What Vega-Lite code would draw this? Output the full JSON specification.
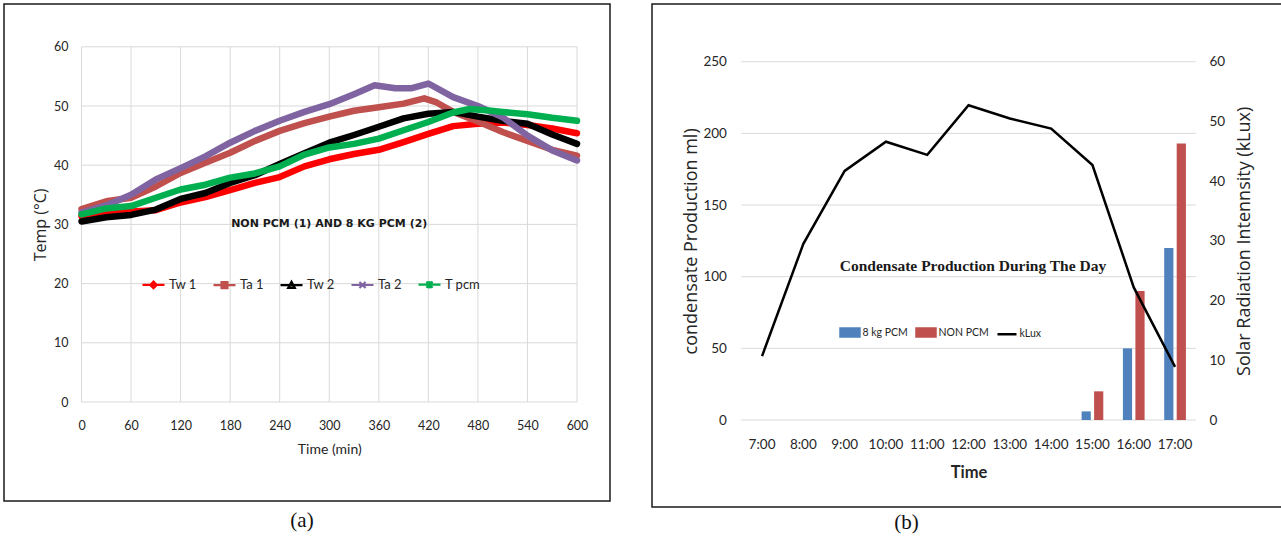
{
  "$schema": "https://vega.github.io/schema/vega-lite/v6.json",
  "background": "white",
  "padding": {"left": 3, "top": 3, "right": 0, "bottom": 0},
  "autosize": {"type": "pad"},
  "spacing": 40,
  "config": {
    "view": {"stroke": null},
    "font": "Lato, sans-serif",
    "axis": {
      "labelColor": "#262626",
      "titleColor": "#262626",
      "titleFontWeight": "normal",
      "ticks": false,
      "grid": false,
      "domainColor": "#D9D9D9",
      "labelFont": "Lato, sans-serif",
      "titleFont": "Lato, sans-serif"
    },
    "title": {"font": "Liberation Serif", "fontSize": 21, "fontWeight": "normal", "color": "#111111"}
  },
  "resolve": {
    "scale": {"x": "independent", "y": "independent", "color": "independent"},
    "legend": {"color": "independent"}
  },
  "hconcat": [
    {
      "width": 606,
      "height": 497,
      "view": {"stroke": "#1a1a1a", "strokeWidth": 1.5, "fill": "white"},
      "title": {"text": "(a)", "orient": "bottom", "anchor": "middle", "dx": -5, "offset": 9},
      "layer": [
        {
          "data": {"values": [{"time": 0}, {"time": 60}, {"time": 120}, {"time": 180}, {"time": 240}, {"time": 300}, {"time": 360}, {"time": 420}, {"time": 480}, {"time": 540}, {"time": 600}]},
          "mark": {"type": "rule", "color": "#D9D9D9", "strokeWidth": 1},
          "encoding": {
            "x": {"field": "time", "type": "quantitative"},
            "y": {"datum": 0, "type": "quantitative"},
            "y2": {"datum": 60}
          }
        },
        {
          "data": {"values": [{"temp": 0}, {"temp": 10}, {"temp": 20}, {"temp": 30}, {"temp": 40}, {"temp": 50}, {"temp": 60}]},
          "mark": {"type": "rule", "color": "#D9D9D9", "strokeWidth": 1},
          "encoding": {
            "y": {"field": "temp", "type": "quantitative"},
            "x": {"datum": 0, "type": "quantitative"},
            "x2": {"datum": 600}
          }
        },
        {
          "data": {
            "values": [
              {"series": "Tw 1", "time": 0, "temp": 31.4}, {"series": "Tw 1", "time": 30, "temp": 31.8}, {"series": "Tw 1", "time": 60, "temp": 32.2},
              {"series": "Tw 1", "time": 90, "temp": 32.4}, {"series": "Tw 1", "time": 120, "temp": 33.7}, {"series": "Tw 1", "time": 150, "temp": 34.6},
              {"series": "Tw 1", "time": 180, "temp": 35.8}, {"series": "Tw 1", "time": 210, "temp": 37.0}, {"series": "Tw 1", "time": 240, "temp": 38.0},
              {"series": "Tw 1", "time": 270, "temp": 39.8}, {"series": "Tw 1", "time": 300, "temp": 41.0}, {"series": "Tw 1", "time": 330, "temp": 41.9},
              {"series": "Tw 1", "time": 360, "temp": 42.6}, {"series": "Tw 1", "time": 390, "temp": 43.9}, {"series": "Tw 1", "time": 420, "temp": 45.3},
              {"series": "Tw 1", "time": 450, "temp": 46.6}, {"series": "Tw 1", "time": 480, "temp": 47.0}, {"series": "Tw 1", "time": 510, "temp": 47.2},
              {"series": "Tw 1", "time": 540, "temp": 46.8}, {"series": "Tw 1", "time": 570, "temp": 46.2}, {"series": "Tw 1", "time": 600, "temp": 45.4},

              {"series": "Ta 1", "time": 0, "temp": 32.6}, {"series": "Ta 1", "time": 30, "temp": 33.9}, {"series": "Ta 1", "time": 60, "temp": 34.5},
              {"series": "Ta 1", "time": 90, "temp": 36.4}, {"series": "Ta 1", "time": 120, "temp": 38.7}, {"series": "Ta 1", "time": 150, "temp": 40.4},
              {"series": "Ta 1", "time": 180, "temp": 42.1}, {"series": "Ta 1", "time": 210, "temp": 44.1}, {"series": "Ta 1", "time": 240, "temp": 45.8},
              {"series": "Ta 1", "time": 270, "temp": 47.1}, {"series": "Ta 1", "time": 300, "temp": 48.2}, {"series": "Ta 1", "time": 330, "temp": 49.2},
              {"series": "Ta 1", "time": 360, "temp": 49.8}, {"series": "Ta 1", "time": 390, "temp": 50.4}, {"series": "Ta 1", "time": 415, "temp": 51.3},
              {"series": "Ta 1", "time": 430, "temp": 50.6}, {"series": "Ta 1", "time": 450, "temp": 49.0}, {"series": "Ta 1", "time": 480, "temp": 47.4},
              {"series": "Ta 1", "time": 510, "temp": 45.6}, {"series": "Ta 1", "time": 540, "temp": 44.1}, {"series": "Ta 1", "time": 570, "temp": 42.6},
              {"series": "Ta 1", "time": 600, "temp": 41.6},

              {"series": "Tw 2", "time": 0, "temp": 30.5}, {"series": "Tw 2", "time": 30, "temp": 31.2}, {"series": "Tw 2", "time": 60, "temp": 31.6},
              {"series": "Tw 2", "time": 90, "temp": 32.5}, {"series": "Tw 2", "time": 120, "temp": 34.3}, {"series": "Tw 2", "time": 150, "temp": 35.3},
              {"series": "Tw 2", "time": 180, "temp": 37.0}, {"series": "Tw 2", "time": 210, "temp": 38.3}, {"series": "Tw 2", "time": 240, "temp": 40.2},
              {"series": "Tw 2", "time": 270, "temp": 42.0}, {"series": "Tw 2", "time": 300, "temp": 43.8}, {"series": "Tw 2", "time": 330, "temp": 45.1},
              {"series": "Tw 2", "time": 360, "temp": 46.5}, {"series": "Tw 2", "time": 390, "temp": 47.9}, {"series": "Tw 2", "time": 420, "temp": 48.7},
              {"series": "Tw 2", "time": 450, "temp": 49.0}, {"series": "Tw 2", "time": 480, "temp": 48.2}, {"series": "Tw 2", "time": 510, "temp": 47.5},
              {"series": "Tw 2", "time": 540, "temp": 47.0}, {"series": "Tw 2", "time": 570, "temp": 45.2}, {"series": "Tw 2", "time": 600, "temp": 43.6},

              {"series": "Ta 2", "time": 0, "temp": 32.0}, {"series": "Ta 2", "time": 30, "temp": 33.2}, {"series": "Ta 2", "time": 60, "temp": 35.0},
              {"series": "Ta 2", "time": 90, "temp": 37.6}, {"series": "Ta 2", "time": 120, "temp": 39.5}, {"series": "Ta 2", "time": 150, "temp": 41.5},
              {"series": "Ta 2", "time": 180, "temp": 43.8}, {"series": "Ta 2", "time": 210, "temp": 45.8}, {"series": "Ta 2", "time": 240, "temp": 47.5},
              {"series": "Ta 2", "time": 270, "temp": 49.0}, {"series": "Ta 2", "time": 300, "temp": 50.3}, {"series": "Ta 2", "time": 330, "temp": 52.0},
              {"series": "Ta 2", "time": 355, "temp": 53.5}, {"series": "Ta 2", "time": 380, "temp": 53.0}, {"series": "Ta 2", "time": 400, "temp": 53.0},
              {"series": "Ta 2", "time": 420, "temp": 53.8}, {"series": "Ta 2", "time": 450, "temp": 51.5}, {"series": "Ta 2", "time": 480, "temp": 50.0},
              {"series": "Ta 2", "time": 510, "temp": 48.1}, {"series": "Ta 2", "time": 540, "temp": 45.0}, {"series": "Ta 2", "time": 570, "temp": 42.5},
              {"series": "Ta 2", "time": 600, "temp": 40.8},

              {"series": "T pcm", "time": 0, "temp": 31.7}, {"series": "T pcm", "time": 30, "temp": 32.7}, {"series": "T pcm", "time": 60, "temp": 33.1},
              {"series": "T pcm", "time": 90, "temp": 34.5}, {"series": "T pcm", "time": 120, "temp": 35.9}, {"series": "T pcm", "time": 150, "temp": 36.7},
              {"series": "T pcm", "time": 180, "temp": 37.9}, {"series": "T pcm", "time": 210, "temp": 38.6}, {"series": "T pcm", "time": 240, "temp": 39.8},
              {"series": "T pcm", "time": 270, "temp": 41.8}, {"series": "T pcm", "time": 300, "temp": 43.0}, {"series": "T pcm", "time": 330, "temp": 43.6},
              {"series": "T pcm", "time": 360, "temp": 44.5}, {"series": "T pcm", "time": 390, "temp": 45.9}, {"series": "T pcm", "time": 420, "temp": 47.3},
              {"series": "T pcm", "time": 450, "temp": 48.9}, {"series": "T pcm", "time": 470, "temp": 49.5}, {"series": "T pcm", "time": 490, "temp": 49.3},
              {"series": "T pcm", "time": 510, "temp": 49.0}, {"series": "T pcm", "time": 540, "temp": 48.6}, {"series": "T pcm", "time": 570, "temp": 48.0},
              {"series": "T pcm", "time": 600, "temp": 47.5}
            ]
          },
          "mark": {"type": "line", "strokeWidth": 6.5, "strokeJoin": "round", "strokeCap": "round"},
          "encoding": {
            "x": {
              "field": "time", "type": "quantitative",
              "scale": {"domain": [0, 600], "range": [77.5, 573], "nice": false},
              "axis": {
                "orient": "bottom", "offset": -99, "values": [0, 60, 120, 180, 240, 300, 360, 420, 480, 540, 600],
                "domain": false, "labelFlush": false, "labelPadding": 17, "labelFontSize": 12.5,
                "title": "Time (min)", "titleFontSize": 14, "titlePadding": 11
              }
            },
            "y": {
              "field": "temp", "type": "quantitative",
              "scale": {"domain": [0, 60], "range": [398, 42.8], "nice": false},
              "axis": {
                "orient": "left", "offset": -77.5, "values": [0, 10, 20, 30, 40, 50, 60],
                "domain": false, "labelPadding": 13.5, "labelFontSize": 12.5,
                "title": "Temp (°C)", "titleFont": "Open Sans", "titleFontSize": 16, "titlePadding": 5
              }
            },
            "color": {
              "field": "series", "type": "nominal",
              "scale": {"domain": ["Tw 1", "Ta 1", "Tw 2", "Ta 2", "T pcm"], "range": ["#FF0000", "#C0504D", "#000000", "#8064A2", "#00B050"]},
              "legend": {
                "orient": "none", "legendX": 137, "legendY": 268, "direction": "horizontal",
                "title": null, "padding": 0, "labelFontSize": 13, "labelColor": "#262626",
                "labelFont": "Lato, sans-serif",
                "symbolSize": 484, "labelOffset": 3, "columnPadding": 12,
                "encode": {
                  "symbols": {
                    "update": {
                      "shape": {"signal": "datum.value === 'Tw 1' ? 'M-1,0L1,0M0,-0.3L0.3,0L0,0.3L-0.3,0Z' : datum.value === 'Ta 1' ? 'M-1,0L1,0M-0.27,-0.27L0.27,-0.27L0.27,0.27L-0.27,0.27Z' : datum.value === 'Tw 2' ? 'M-1,0L1,0M0,-0.3L0.3,0.25L-0.3,0.25Z' : datum.value === 'Ta 2' ? 'M-1,0L1,0M-0.28,-0.28L0.28,0.28M-0.28,0.28L0.28,-0.28' : 'M-1,0L1,0M-0.28,-0.28L0.28,0.28M-0.28,0.28L0.28,-0.28M0,-0.34L0,0.34'"},
                      "fill": {"signal": "datum.value === 'Tw 1' ? '#4F81BD' : datum.value === 'Ta 1' ? '#C0504D' : datum.value === 'Tw 2' ? '#9BBB59' : 'transparent'"},
                      "stroke": {"signal": "datum.value === 'Tw 1' ? '#FF0000' : datum.value === 'Ta 1' ? '#C0504D' : datum.value === 'Tw 2' ? '#000000' : datum.value === 'Ta 2' ? '#8064A2' : '#00B050'"},
                      "strokeWidth": {"value": 2.2},
                      "opacity": {"value": 1}
                    }
                  }
                }
              }
            }
          }
        },
        {
          "data": {"values": [{"label": "NON PCM (1) AND 8 KG PCM (2)", "time": 300, "temp": 30}]},
          "mark": {"type": "text", "font": "DejaVu Sans", "fontWeight": "bold", "fontSize": 11, "color": "#1a1a1a"},
          "encoding": {
            "x": {"field": "time", "type": "quantitative"},
            "y": {"field": "temp", "type": "quantitative"},
            "text": {"field": "label"}
          }
        }
      ]
    },
    {
      "width": 632,
      "height": 503,
      "view": {"stroke": "#1a1a1a", "strokeWidth": 1.5, "fill": null},
      "title": {"text": "(b)", "orient": "bottom", "anchor": "middle", "dx": -61.5, "offset": 5},
      "resolve": {
        "scale": {"x": "independent", "y": "independent"},
        "axis": {"x": "independent", "y": "independent"}
      },
      "layer": [
        {
          "data": {"values": [{"ml": 0}, {"ml": 50}, {"ml": 100}, {"ml": 150}, {"ml": 200}, {"ml": 250}]},
          "mark": {"type": "rule", "color": "#D9D9D9", "strokeWidth": 1},
          "encoding": {
            "y": {
              "field": "ml", "type": "quantitative",
              "scale": {"domain": [0, 250], "range": [416, 57.7], "nice": false},
              "axis": null
            },
            "x": {
              "datum": 0, "type": "quantitative",
              "scale": {"domain": [0, 1], "range": [89.4, 543.7], "nice": false, "zero": false},
              "axis": null
            },
            "x2": {"datum": 1}
          }
        },
        {
          "layer": [
            {
              "data": {
                "values": [
                  {"hour": "7:00", "series": "8 kg PCM", "ml": 0}, {"hour": "7:00", "series": "NON PCM", "ml": 0},
                  {"hour": "8:00", "series": "8 kg PCM", "ml": 0}, {"hour": "8:00", "series": "NON PCM", "ml": 0},
                  {"hour": "9:00", "series": "8 kg PCM", "ml": 0}, {"hour": "9:00", "series": "NON PCM", "ml": 0},
                  {"hour": "10:00", "series": "8 kg PCM", "ml": 0}, {"hour": "10:00", "series": "NON PCM", "ml": 0},
                  {"hour": "11:00", "series": "8 kg PCM", "ml": 0}, {"hour": "11:00", "series": "NON PCM", "ml": 0},
                  {"hour": "12:00", "series": "8 kg PCM", "ml": 0}, {"hour": "12:00", "series": "NON PCM", "ml": 0},
                  {"hour": "13:00", "series": "8 kg PCM", "ml": 0}, {"hour": "13:00", "series": "NON PCM", "ml": 0},
                  {"hour": "14:00", "series": "8 kg PCM", "ml": 0}, {"hour": "14:00", "series": "NON PCM", "ml": 0},
                  {"hour": "15:00", "series": "8 kg PCM", "ml": 6}, {"hour": "15:00", "series": "NON PCM", "ml": 20},
                  {"hour": "16:00", "series": "8 kg PCM", "ml": 50}, {"hour": "16:00", "series": "NON PCM", "ml": 90},
                  {"hour": "17:00", "series": "8 kg PCM", "ml": 120}, {"hour": "17:00", "series": "NON PCM", "ml": 193}
                ]
              },
              "mark": {"type": "bar"},
              "encoding": {
                "x": {
                  "field": "hour", "type": "ordinal", "sort": null,
                  "scale": {
                    "domain": ["7:00", "8:00", "9:00", "10:00", "11:00", "12:00", "13:00", "14:00", "15:00", "16:00", "17:00"],
                    "range": [89.4, 543.7], "paddingInner": 0, "paddingOuter": 0
                  },
                  "axis": {
                    "orient": "bottom", "offset": -87, "domain": false, "labelAngle": 0, "labelAlign": "center", "bandPosition": 0.5,
                    "labelPadding": 17, "labelFontSize": 13.5,
                    "title": "Time", "titleFontWeight": "bold", "titleFontSize": 16.5, "titlePadding": 14
                  }
                },
                "xOffset": {
                  "field": "series", "type": "nominal",
                  "scale": {"domain": ["8 kg PCM", "NON PCM"], "paddingInner": 0.264, "paddingOuter": 0.784}
                },
                "y": {
                  "field": "ml", "type": "quantitative",
                  "scale": {"domain": [0, 250], "range": [416, 57.7], "nice": false},
                  "axis": {
                    "orient": "left", "offset": -89.4, "values": [0, 50, 100, 150, 200, 250],
                    "domain": false, "labelPadding": 15, "labelFontSize": 13.5,
                    "title": "condensate Production ml)", "titleFont": "Open Sans", "titleFontSize": 18, "titlePadding": 2
                  }
                },
                "color": {
                  "field": "series", "type": "nominal",
                  "scale": {"domain": ["8 kg PCM", "NON PCM", "kLux"], "range": ["#4F81BD", "#C0504D", "#000000"]},
                  "legend": {
                    "orient": "none", "legendX": 187, "legendY": 317.5, "direction": "horizontal",
                    "title": null, "padding": 0, "labelFontSize": 10.5, "labelColor": "#262626",
                    "labelFont": "Lato, sans-serif",
                    "symbolSize": 361, "labelOffset": 1.5, "columnPadding": 3,
                    "encode": {
                      "symbols": {
                        "update": {
                          "shape": {"signal": "datum.value === 'kLux' ? 'M-1,0L1,0' : 'M-1,-0.42L1,-0.42L1,0.42L-1,0.42Z'"},
                          "fill": {"signal": "datum.value === '8 kg PCM' ? '#4F81BD' : datum.value === 'NON PCM' ? '#C0504D' : 'transparent'"},
                          "stroke": {"signal": "datum.value === 'kLux' ? '#000000' : 'transparent'"},
                          "strokeWidth": {"value": 2.5},
                          "opacity": {"value": 1}
                        }
                      }
                    }
                  }
                }
              }
            },
            {
              "data": {"values": [{"hour": "12:00", "ml": 107.6, "label": "Condensate Production During The Day"}]},
              "mark": {"type": "text", "font": "Liberation Serif", "fontWeight": "bold", "fontSize": 15.5, "color": "#1a1a1a", "dx": 4.4},
              "encoding": {
                "x": {"field": "hour", "type": "ordinal"},
                "y": {"field": "ml", "type": "quantitative"},
                "text": {"field": "label"}
              }
            }
          ]
        },
        {
          "data": {
            "values": [
              {"hour": "7:00", "series": "kLux", "klux": 10.7},
              {"hour": "8:00", "series": "kLux", "klux": 29.5},
              {"hour": "9:00", "series": "kLux", "klux": 41.7},
              {"hour": "10:00", "series": "kLux", "klux": 46.6},
              {"hour": "11:00", "series": "kLux", "klux": 44.4},
              {"hour": "12:00", "series": "kLux", "klux": 52.7},
              {"hour": "13:00", "series": "kLux", "klux": 50.5},
              {"hour": "14:00", "series": "kLux", "klux": 48.8},
              {"hour": "15:00", "series": "kLux", "klux": 42.7},
              {"hour": "16:00", "series": "kLux", "klux": 22.2},
              {"hour": "17:00", "series": "kLux", "klux": 8.9}
            ]
          },
          "mark": {"type": "line", "strokeWidth": 2.5},
          "encoding": {
            "x": {
              "field": "hour", "type": "ordinal", "sort": null,
              "scale": {
                "type": "band",
                "domain": ["7:00", "8:00", "9:00", "10:00", "11:00", "12:00", "13:00", "14:00", "15:00", "16:00", "17:00"],
                "range": [89.4, 543.7], "paddingInner": 0, "paddingOuter": 0
              },
              "axis": null
            },
            "y": {
              "field": "klux", "type": "quantitative",
              "scale": {"domain": [0, 60], "range": [416, 57.7], "nice": false},
              "axis": {
                "orient": "right", "offset": -88.3, "values": [0, 10, 20, 30, 40, 50, 60],
                "domain": false, "labelPadding": 13.3, "labelFontSize": 13.5,
                "title": "Solar Radiation Intennsity (kLux)", "titleFont": "Open Sans", "titleFontSize": 18,
                "titleAngle": 270, "titleBaseline": "top", "titlePadding": 11
              }
            },
            "color": {"field": "series", "type": "nominal"}
          }
        }
      ]
    }
  ]
}
